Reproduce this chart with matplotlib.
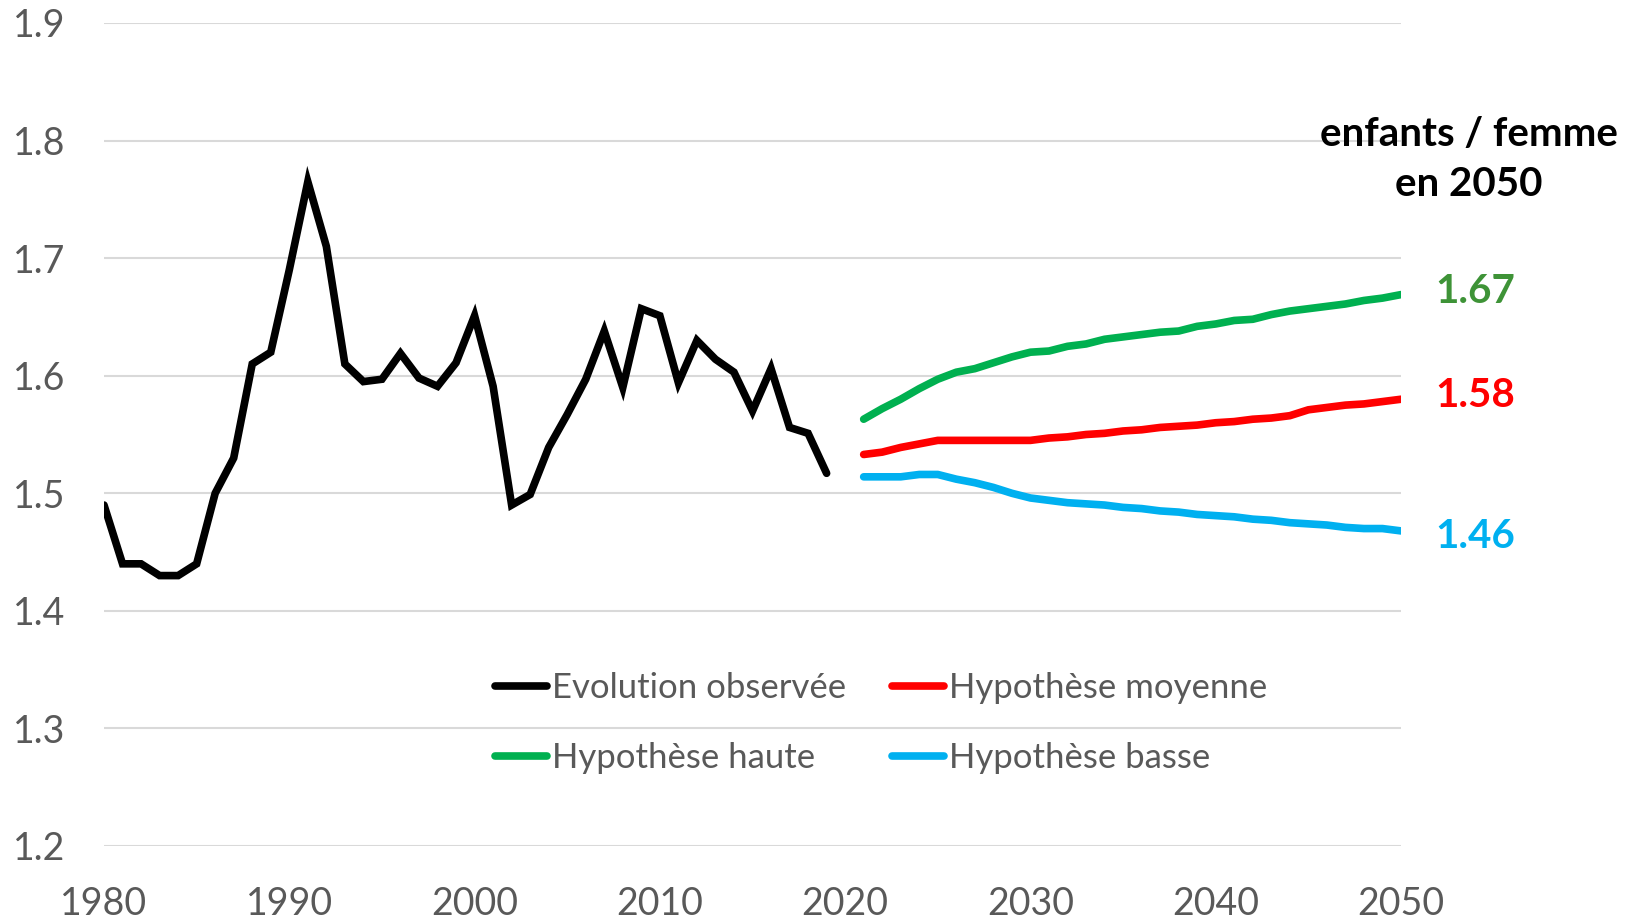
import matplotlib.pyplot as plt
import matplotlib as mpl

# Indicateur conjoncturel de fécondité : observé puis projections
years_obs = list(range(1980, 2020))
fert_obs = [1.49, 1.44, 1.44, 1.43, 1.43, 1.44, 1.50, 1.53, 1.61, 1.62,
            1.69, 1.765, 1.71, 1.61, 1.595, 1.597, 1.619, 1.598, 1.591, 1.611,
            1.651, 1.591, 1.490, 1.499, 1.539, 1.567, 1.597, 1.638, 1.590, 1.657,
            1.651, 1.594, 1.630, 1.614, 1.603, 1.570, 1.606, 1.556, 1.551, 1.517]

years_proj = list(range(2021, 2051))
fert_high = [1.563, 1.572, 1.580, 1.589, 1.597, 1.603, 1.606, 1.611, 1.616, 1.620,
             1.621, 1.625, 1.627, 1.631, 1.633, 1.635, 1.637, 1.638, 1.642, 1.644,
             1.647, 1.648, 1.652, 1.655, 1.657, 1.659, 1.661, 1.664, 1.666, 1.669]
fert_mid = [1.533, 1.535, 1.539, 1.542, 1.545, 1.545, 1.545, 1.545, 1.545, 1.545,
            1.547, 1.548, 1.550, 1.551, 1.553, 1.554, 1.556, 1.557, 1.558, 1.560,
            1.561, 1.563, 1.564, 1.566, 1.571, 1.573, 1.575, 1.576, 1.578, 1.580]
fert_low = [1.514, 1.514, 1.514, 1.516, 1.516, 1.512, 1.509, 1.505, 1.500, 1.496,
            1.494, 1.492, 1.491, 1.490, 1.488, 1.487, 1.485, 1.484, 1.482, 1.481,
            1.480, 1.478, 1.477, 1.475, 1.474, 1.473, 1.471, 1.470, 1.470, 1.468]

end_labels = ["1.67", "1.58", "1.46"]
y_ticks = [1.2, 1.3, 1.4, 1.5, 1.6, 1.7, 1.8, 1.9]
x_ticks = [1980, 1990, 2000, 2010, 2020, 2030, 2040, 2050]

mpl.rcParams['font.family'] = ['Lato', 'DejaVu Sans']

fig = plt.figure(figsize=(16.31, 9.22), dpi=100)
ax = fig.add_axes([104 / 1631, 1 - 846 / 922, (1401 - 104) / 1631, (846 - 23) / 922])

lw = 5.5
ax.plot(years_obs, fert_obs, color='black', lw=lw, solid_capstyle='round',
        solid_joinstyle='miter', label='Evolution observée')
ax.plot(years_proj, fert_mid, color='#FF0000', lw=lw, solid_capstyle='round',
        label='Hypothèse moyenne')
ax.plot(years_proj, fert_high, color='#00B050', lw=lw, solid_capstyle='round',
        label='Hypothèse haute')
ax.plot(years_proj, fert_low, color='#00B0F0', lw=lw, solid_capstyle='round',
        label='Hypothèse basse')

ax.set_xlim(1980, 2050)
ax.set_ylim(1.2, 1.9)
ax.set_xticks(x_ticks)
ax.set_yticks(y_ticks)
ax.set_yticklabels([f"{v:.1f}" for v in y_ticks])
ax.tick_params(axis='both', length=0, labelsize=27, labelcolor='#595959')
ax.tick_params(axis='y', pad=28)
ax.tick_params(axis='x', pad=29)
ax.grid(axis='y', color='#D9D9D9', lw=1.5)
ax.set_axisbelow(True)
for s in ax.spines.values():
    s.set_visible(False)

# valeurs en 2050
end_colors = ['#3E9337', '#FF0000', '#00B0F0']
end_values = [fert_high[-1], fert_mid[-1], fert_low[-1]]
end_offsets = [0.003, 0.003, -0.005]
for txt, val, col, off in zip(end_labels, end_values, end_colors, end_offsets):
    ax.text(2054.0, val + off, txt, color=col, fontsize=29, fontweight='bold',
            ha='center', va='center', clip_on=False)

fig.text(1469 / 1631, 1 - 134 / 922, 'enfants / femme', fontsize=29,
         fontweight='bold', ha='center', va='center')
fig.text(1469 / 1631, 1 - 185 / 922, 'en 2050', fontsize=29,
         fontweight='bold', ha='center', va='center')

handles, labels = ax.get_legend_handles_labels()
order = [0, 2, 1, 3]
leg = ax.legend([handles[i] for i in order], [labels[i] for i in order],
                ncol=2, loc='center', bbox_to_anchor=(881 / 1631, 1 - 723 / 922),
                bbox_transform=fig.transFigure, frameon=False, fontsize=25,
                handlelength=1.5, handletextpad=0.15, columnspacing=1.3,
                labelspacing=1.1)
for t in leg.get_texts():
    t.set_color('#595959')

fig.savefig('out.png', dpi=100)
